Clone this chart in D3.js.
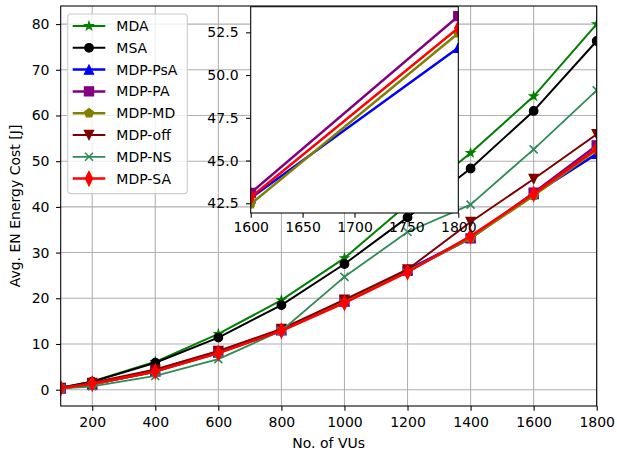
<!DOCTYPE html>
<html>
<head>
<meta charset="utf-8">
<script src="https://cdn.jsdelivr.net/npm/d3@7"></script>
<style>
  body { margin: 0; background: #fff; }
  text { font-family: "DejaVu Sans", sans-serif; fill: #000; }
</style>
</head>
<body>
<svg id="chart" width="617" height="453"></svg>
<script>
// Number of vehicular users (x values)
const vus = [100, 200, 400, 600, 800, 1000, 1200, 1400, 1600, 1800];

// Average EN energy cost [J] per scheme
const mda    = [0.41, 1.8, 6.1, 12.2, 19.6, 28.8, 40.6, 51.8, 64.2, 80.0];
const msa    = [0.45, 1.75, 5.9, 11.4, 18.5, 27.5, 37.7, 48.4, 61.0, 76.3];
const mdpPsA = [0.3, 1.2, 4.0, 8.1, 13.0, 19.3, 26.2, 33.3, 42.8, 51.6];
const mdpPA  = [0.3, 1.2, 4.1, 8.3, 13.1, 19.5, 26.0, 33.1, 43.1, 53.45];
const mdpMD  = [0.3, 1.2, 4.0, 8.0, 12.9, 19.2, 25.9, 33.2, 42.45, 52.45];
const mdpOff = [0.4, 1.5, 4.4, 8.5, 13.3, 19.7, 26.3, 36.7, 46.1, 55.9];
const mdpNS  = [0.3, 0.7, 3.0, 6.7, 12.9, 24.7, 34.5, 40.5, 52.6, 65.5];
const mdpSA  = [0.35, 1.3, 4.0, 8.0, 12.9, 19.0, 25.7, 33.6, 42.85, 52.75];

const seriesNames = ["MDA", "MSA", "MDP-PsA", "MDP-PA", "MDP-MD", "MDP-off", "MDP-NS", "MDP-SA"];
const seriesValues = [mda, msa, mdpPsA, mdpPA, mdpMD, mdpOff, mdpNS, mdpSA];

// Names drawn again in the zoomed panel
const insetNames = ["MDP-PsA", "MDP-PA", "MDP-MD", "MDP-SA"];

// Tick labels
const xTicks = [200, 400, 600, 800, 1000, 1200, 1400, 1600, 1800];
const yTicks = [0, 10, 20, 30, 40, 50, 60, 70, 80];
const insetXTicks = [1600, 1650, 1700, 1750, 1800];
const insetYTicks = [42.5, 45.0, 47.5, 50.0, 52.5];

// Visual style per scheme
const styles = {
  "MDA":     { color: "#008000", marker: "star",     size: 4.3, lw: 2.0 },
  "MSA":     { color: "#000000", marker: "circle",   size: 4.3, lw: 2.0 },
  "MDP-PsA": { color: "#0000ff", marker: "triUp",    size: 4.6, lw: 2.5 },
  "MDP-PA":  { color: "#800080", marker: "square",   size: 4.6, lw: 2.5 },
  "MDP-MD":  { color: "#808000", marker: "pentagon", size: 4.6, lw: 2.5 },
  "MDP-off": { color: "#800000", marker: "triDown",  size: 4.6, lw: 2.0 },
  "MDP-NS":  { color: "#2e8b57", marker: "x",        size: 4.0, lw: 1.8 },
  "MDP-SA":  { color: "#ff0000", marker: "thinDiamond", size: 7.2, lw: 2.5 }
};

const FONT = 14;

const series = seriesNames.map((name, i) => ({
  name,
  points: vus.map((v, j) => ({ x: v, y: seriesValues[i][j] }))
}));

// Marker outline centred on (0,0); r is the half-size in px
function markerPath(type, r) {
  const p = d3.path();
  const poly = (pts) => {
    pts.forEach((q, k) => k ? p.lineTo(q[0], q[1]) : p.moveTo(q[0], q[1]));
    p.closePath();
  };
  if (type === "circle") {
    p.arc(0, 0, r, 0, 2 * Math.PI);
  } else if (type === "square") {
    poly([[-r, -r], [r, -r], [r, r], [-r, r]]);
  } else if (type === "triUp") {
    poly([[0, -r], [r, r], [-r, r]]);
  } else if (type === "triDown") {
    poly([[0, r], [r, -r], [-r, -r]]);
  } else if (type === "pentagon") {
    poly(d3.range(5).map(k => {
      const a = -Math.PI / 2 + k * 2 * Math.PI / 5;
      return [r * Math.cos(a), r * Math.sin(a)];
    }));
  } else if (type === "star") {
    const inner = r * 0.381966;
    poly(d3.range(10).map(k => {
      const a = -Math.PI / 2 + k * Math.PI / 5;
      const rr = k % 2 ? inner : r;
      return [rr * Math.cos(a), rr * Math.sin(a)];
    }));
  } else if (type === "thinDiamond") {
    const w = r * 0.5;
    poly([[0, -r], [w, 0], [0, r], [-w, 0]]);
  } else if (type === "x") {
    p.moveTo(-r, -r); p.lineTo(r, r);
    p.moveTo(-r, r); p.lineTo(r, -r);
  }
  return p.toString();
}

function drawMarker(sel, st) {
  const unfilled = st.marker === "x";
  sel.attr("d", markerPath(st.marker, st.size))
    .attr("fill", unfilled ? "none" : st.color)
    .attr("stroke", st.color)
    .attr("stroke-width", unfilled ? 1.6 : 1.2)
    .attr("stroke-linejoin", "miter");
}

const svg = d3.select("#chart");
svg.append("rect").attr("width", 617).attr("height", 453).attr("fill", "#fff");

// ---------- main axes ----------
const plot = { left: 60.7, right: 596.7, top: 6, bottom: 406 };
const x = d3.scaleLinear().domain([100, 1800]).range([plot.left, plot.right]);
const y = d3.scaleLinear().domain([-3.57, 83.96]).range([plot.bottom, plot.top]);

const defs = svg.append("defs");
defs.append("clipPath").attr("id", "clip-main")
  .append("rect")
  .attr("x", plot.left).attr("y", plot.top)
  .attr("width", plot.right - plot.left).attr("height", plot.bottom - plot.top);

// grid
const grid = svg.append("g").attr("stroke", "#b0b0b0").attr("stroke-width", 1.07);
grid.selectAll(".gx").data(xTicks).join("line")
  .attr("x1", d => x(d)).attr("x2", d => x(d))
  .attr("y1", plot.top).attr("y2", plot.bottom);
grid.selectAll(".gy").data(yTicks).join("line")
  .attr("x1", plot.left).attr("x2", plot.right)
  .attr("y1", d => y(d)).attr("y2", d => y(d));

const line = (sx, sy) => d3.line().x(d => sx(d.x)).y(d => sy(d.y));

const mainLayer = svg.append("g").attr("clip-path", "url(#clip-main)");
series.forEach(s => {
  const st = styles[s.name];
  const g = mainLayer.append("g");
  g.append("path").datum(s.points)
    .attr("d", line(x, y))
    .attr("fill", "none").attr("stroke", st.color)
    .attr("stroke-width", st.lw).attr("stroke-linejoin", "round");
  g.selectAll("path.m").data(s.points).join("path").attr("class", "m")
    .attr("transform", d => `translate(${x(d.x)},${y(d.y)})`)
    .call(drawMarker, st);
});

// axes
const styleAxis = a => {
  a.select(".domain").remove();
  a.selectAll("line").attr("stroke", "#000").attr("stroke-width", 1.07);
  a.selectAll("text").attr("font-size", FONT).attr("font-family", "DejaVu Sans");
};
const xAxis = svg.append("g").attr("transform", `translate(0,${plot.bottom})`)
  .call(d3.axisBottom(x).tickValues(xTicks).tickFormat(d3.format("d"))
    .tickSize(4.67).tickPadding(6.5).tickSizeOuter(0));
const yAxis = svg.append("g").attr("transform", `translate(${plot.left},0)`)
  .call(d3.axisLeft(y).tickValues(yTicks).tickFormat(d3.format("d"))
    .tickSize(4.67).tickPadding(6.5).tickSizeOuter(0));
styleAxis(xAxis);
styleAxis(yAxis);

svg.append("rect")
  .attr("x", plot.left).attr("y", plot.top)
  .attr("width", plot.right - plot.left).attr("height", plot.bottom - plot.top)
  .attr("fill", "none").attr("stroke", "#000").attr("stroke-width", 1.07);

// axis labels
svg.append("text")
  .attr("x", (plot.left + plot.right) / 2).attr("y", 447.5)
  .attr("text-anchor", "middle").attr("font-size", FONT)
  .text("No. of VUs");
svg.append("text")
  .attr("transform", `translate(19.5,${(plot.top + plot.bottom) / 2}) rotate(-90)`)
  .attr("text-anchor", "middle").attr("font-size", FONT)
  .text("Avg. EN Energy Cost [J]");

// ---------- legend ----------
const legend = svg.append("g");
legend.append("rect")
  .attr("x", 67.7).attr("y", 14).attr("width", 119.6).attr("height", 179.6)
  .attr("rx", 3).attr("fill", "#fff").attr("fill-opacity", 0.8)
  .attr("stroke", "#cccccc").attr("stroke-width", 1.07);
seriesNames.forEach((name, i) => {
  const st = styles[name];
  const cy = 26 + i * 21.8;
  const row = legend.append("g");
  row.append("line")
    .attr("x1", 72.7).attr("x2", 105.3).attr("y1", cy).attr("y2", cy)
    .attr("stroke", st.color).attr("stroke-width", st.lw);
  row.append("path").attr("transform", `translate(89,${cy})`).call(drawMarker, st);
  row.append("text").attr("x", 116.3).attr("y", cy + 5)
    .attr("font-size", FONT).text(name);
});

// ---------- zoomed panel ----------
const ins = { left: 250.7, right: 458.3, top: 6.7, bottom: 213 };
const ix = d3.scaleLinear().domain([1600, 1800]).range([ins.left, ins.right]);
const iy = d3.scaleLinear().domain([41.93, 54.0]).range([ins.bottom, ins.top]);

defs.append("clipPath").attr("id", "clip-inset")
  .append("rect")
  .attr("x", ins.left).attr("y", ins.top)
  .attr("width", ins.right - ins.left).attr("height", ins.bottom - ins.top);

svg.append("rect")
  .attr("x", ins.left).attr("y", ins.top)
  .attr("width", ins.right - ins.left).attr("height", ins.bottom - ins.top)
  .attr("fill", "#fff");

const insetLayer = svg.append("g").attr("clip-path", "url(#clip-inset)");
series.filter(s => insetNames.includes(s.name)).forEach(s => {
  const st = styles[s.name];
  const g = insetLayer.append("g");
  g.append("path").datum(s.points)
    .attr("d", line(ix, iy))
    .attr("fill", "none").attr("stroke", st.color)
    .attr("stroke-width", st.lw).attr("stroke-linejoin", "round");
  g.selectAll("path.m").data(s.points).join("path").attr("class", "m")
    .attr("transform", d => `translate(${ix(d.x)},${iy(d.y)})`)
    .call(drawMarker, st);
});

const ixAxis = svg.append("g").attr("transform", `translate(0,${ins.bottom})`)
  .call(d3.axisBottom(ix).tickValues(insetXTicks).tickFormat(d3.format("d"))
    .tickSize(4.67).tickPadding(4.5).tickSizeOuter(0));
const iyAxis = svg.append("g").attr("transform", `translate(${ins.left},0)`)
  .call(d3.axisLeft(iy).tickValues(insetYTicks).tickFormat(d3.format(".1f"))
    .tickSize(4.67).tickPadding(7.5).tickSizeOuter(0));
styleAxis(ixAxis);
styleAxis(iyAxis);

svg.append("rect")
  .attr("x", ins.left).attr("y", ins.top)
  .attr("width", ins.right - ins.left).attr("height", ins.bottom - ins.top)
  .attr("fill", "none").attr("stroke", "#000").attr("stroke-width", 1.07);
</script>
</body>
</html>
